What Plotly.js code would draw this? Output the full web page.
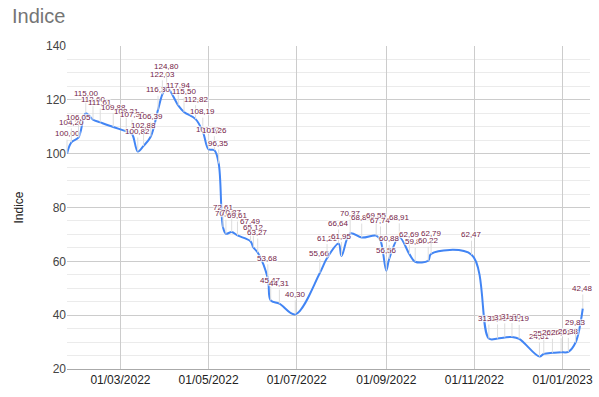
<!DOCTYPE html>
<html>
<head>
<meta charset="utf-8">
<script src="https://cdn.plot.ly/plotly-3.0.1.min.js"></script>
<style>html,body{margin:0;padding:0;background:#fff;}#chart{width:599px;height:397px;}</style>
</head>
<body>
<div id="chart"></div>
<script>
const dates = ['2022-01-23','2022-01-26','2022-01-31','2022-02-05','2022-02-10','2022-02-15','2022-02-24','2022-03-05','2022-03-09','2022-03-13','2022-03-17','2022-03-22','2022-03-27','2022-03-30','2022-04-02','2022-04-10','2022-04-14','2022-04-22','2022-04-27','2022-05-01','2022-05-05','2022-05-08','2022-05-11','2022-05-13','2022-05-17','2022-05-21','2022-05-30','2022-06-01','2022-06-04','2022-06-11','2022-06-13','2022-06-19','2022-06-30','2022-07-17','2022-07-22','2022-07-30','2022-08-01','2022-08-07','2022-08-15','2022-08-25','2022-08-28','2022-09-01','2022-09-03','2022-09-10','2022-09-17','2022-09-21','2022-09-30','2022-10-02','2022-10-30','2022-11-11','2022-11-17','2022-11-22','2022-11-27','2022-12-02','2022-12-16','2022-12-19','2022-12-25','2022-12-31','2023-01-05','2023-01-10','2023-01-15'];
const indice = [100.00,104.20,106.05,115.00,112.60,111.61,109.88,108.31,107.30,100.82,102.88,106.39,116.30,122.03,124.80,117.94,115.50,112.82,108.19,101.62,101.26,96.35,72.61,70.26,70.87,69.61,67.49,65.12,63.27,53.68,45.47,44.31,40.30,55.66,61.21,66.64,61.95,70.37,68.84,69.55,67.74,56.56,60.88,68.91,62.69,59.84,60.22,62.79,62.47,31.31,31.35,31.73,31.90,31.19,24.61,25.62,26.05,26.21,26.38,29.83,42.48];
const xTickVals = ['2022-03-01','2022-05-01','2022-07-01','2022-09-01','2022-11-01','2023-01-01'];
const xTickText = ['01/03/2022','01/05/2022','01/07/2022','01/09/2022','01/11/2022','01/01/2023'];
const yTickVals = [20,40,60,80,100,120,140];

const fmt = v => v.toFixed(2).replace('.', ',');
const halo = '1px 1px 1px #fff, -1px -1px 1px #fff, 1px -1px 1px #fff, -1px 1px 1px #fff, 0 0 2px #fff';

const annotations = dates.map((d, i) => ({
  x: d, y: indice[i], xref: 'x', yref: 'y',
  text: fmt(indice[i]),
  showarrow: true, arrowhead: 0, arrowwidth: 1, arrowcolor: '#dddddd',
  ax: 0, ay: -20, standoff: 0,
  font: {family: 'Liberation Sans, Arial, sans-serif', size: 8, color: '#741b47', shadow: halo}
}));

const trace = {
  x: dates, y: indice, type: 'scatter', mode: 'lines',
  line: {color: '#4285f4', width: 2, shape: 'spline', smoothing: 1},
  hoverinfo: 'x+y'
};

const layout = {
  width: 599, height: 397,
  margin: {l: 67, r: 9, t: 46, b: 28, pad: 0},
  paper_bgcolor: '#ffffff', plot_bgcolor: '#ffffff',
  font: {family: 'Liberation Sans, Arial, sans-serif', size: 12, color: '#444444'},
  title: {text: 'Indice', x: 12/599, xref: 'container', xanchor: 'left', y: 1 - 16/397, yref: 'container', yanchor: 'middle',
          font: {family: 'Liberation Sans, Arial, sans-serif', size: 20, color: '#757575'}},
  showlegend: false,
  xaxis: {
    type: 'date', range: ['2022-01-23', '2023-01-20'],
    tickmode: 'array', tickvals: xTickVals, ticktext: xTickText,
    showgrid: true, gridcolor: '#cccccc', gridwidth: 1,
    showline: true, linecolor: '#aaaaaa', linewidth: 1,
    zeroline: false, ticks: '', tickfont: {size: 12, color: '#222222'}
  },
  yaxis: {
    range: [20, 140], tickmode: 'array', tickvals: yTickVals,
    showgrid: true, gridcolor: '#cccccc', gridwidth: 1,
    minor: {dtick: 5, tick0: 0, showgrid: true, gridcolor: '#ebebeb', gridwidth: 1, ticks: ''},
    zeroline: false, ticks: '', ticklabelstandoff: 0,
    tickfont: {size: 12, color: '#444444'},
    title: {text: 'Indice', standoff: 19, font: {size: 12, color: '#222222'}}
  },
  annotations: annotations
};

Plotly.newPlot('chart', [trace], layout, {displayModeBar: false, staticPlot: true});
</script>
</body>
</html>
